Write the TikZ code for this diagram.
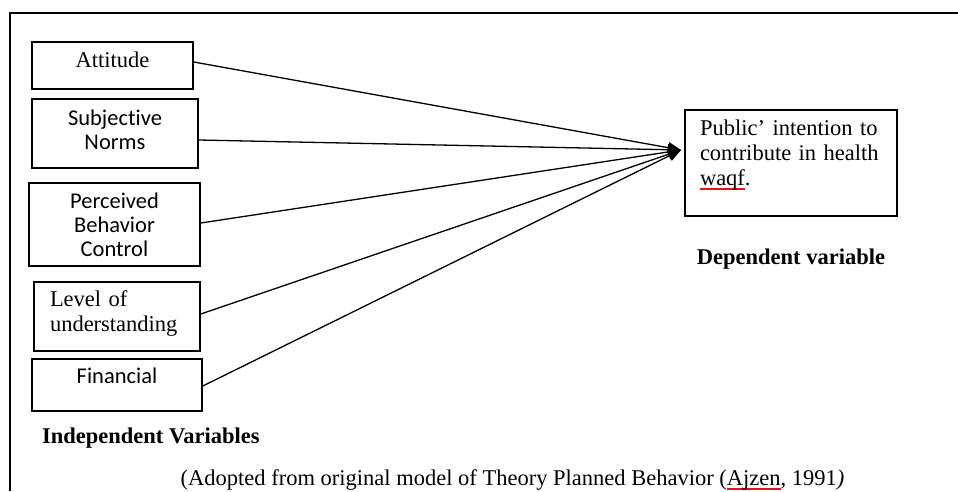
\documentclass[tikz,border=0pt]{standalone}
\usepackage{fontspec}
\setmainfont{Liberation Serif}
\newfontfamily\calibri[Ligatures=NoCommon]{Carlito}
\usetikzlibrary{arrows.meta}
\definecolor{spellred}{RGB}{230,20,20}
\newcommand\spellul[1]{\leavevmode\setbox0\hbox{#1}\rlap{\color{spellred}\vrule width \wd0 height -3.2pt depth 4.6pt}#1}
\begin{document}
\begin{tikzpicture}[x=1pt,y=-1pt,
  boxbase/.style={draw, line width=1.6pt, inner sep=0pt},
  serifbox/.style={boxbase, font=\fontsize{22.5}{25}\selectfont},
  sansbox/.style={boxbase, font=\fontsize{22.5}{24}\selectfont\calibri},
  caption/.style={inner sep=0pt, font=\fontsize{22.5}{25}\selectfont},
  conn/.style={line width=1.3pt, -{Triangle[length=13pt,width=11pt]}},
  frame/.style={line width=1.8pt}]
\useasboundingbox (0,0) rectangle (958,491);
\draw[frame] (10,491) -- (10,13) -- (958,13);

\node[serifbox, minimum width=161pt, minimum height=47pt, text width=161pt, align=center, text height=16pt, text depth=13pt] (att) at (112.5,65.5) {Attitude};
\node[sansbox, minimum width=166pt, minimum height=69pt, text width=166pt, align=center, text height=16pt, text depth=33pt] (sn) at (115,133.5) {Subjective\\Norms};
\node[sansbox, minimum width=171pt, minimum height=83pt, text width=171pt, align=center, text height=16pt, text depth=49pt] (pbc) at (114.5,224.5) {Perceived\\Behavior\\Control};
\node[serifbox, minimum width=166pt, minimum height=69pt, text width=134pt, align=left, text height=16pt, text depth=37pt] (lou) at (117,316.5) {Level of\\understanding};
\node[sansbox, minimum width=170pt, minimum height=52pt, text width=170pt, align=center, text height=14pt, text depth=18pt] (fin) at (117,385) {Financial};
\node[serifbox, minimum width=212pt, minimum height=106pt, text width=182pt, align=left, text height=16pt, text depth=72pt] (dep) at (791,163) {Public’ intention to\\contribute in health\\\spellul{waqf}.};

\coordinate (tip) at (681,150);
\draw[conn] ([yshift=3.5pt]att.east) -- (tip);
\draw[conn] ([yshift=-6.5pt]sn.east) -- (tip);
\draw[conn] ([yshift=1.5pt]pbc.east) -- (tip);
\draw[conn] ([yshift=2.5pt]lou.east) -- (tip);
\draw[conn] ([yshift=-1pt]fin.east) -- (tip);

\node[caption, font=\fontsize{22.5}{25}\selectfont\bfseries, anchor=base] (dv) at (791,264) {Dependent variable};
\node[caption, font=\fontsize{22.5}{25}\selectfont\bfseries, anchor=base west] (iv) at (42,443) {Independent Variables};
\node[caption, anchor=base] (src) at (512.5,485) {(Adopted from original model of Theory Planned Behavior (\spellul{Ajzen}, 1991\textit{)}};
\end{tikzpicture}
\end{document}
